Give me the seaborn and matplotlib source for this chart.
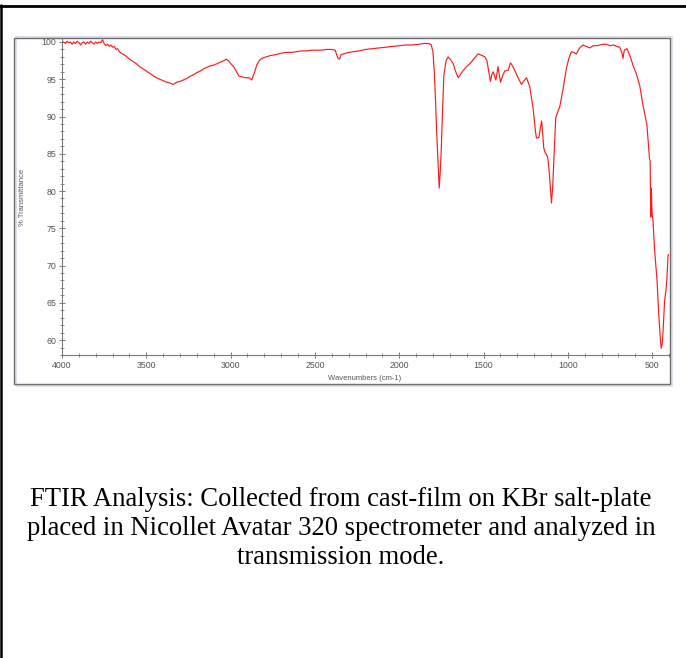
import matplotlib
matplotlib.use('Agg')
import matplotlib.pyplot as plt
import seaborn as sns
import pandas as pd
from matplotlib.patches import Rectangle
from matplotlib.lines import Line2D
from matplotlib.ticker import MultipleLocator

# spectrum (cm-1, %T)
wavenumber = [
    4000, 3990, 3980, 3970, 3960, 3950, 3940, 3930, 3920, 3910, 3900, 3890, 3880, 3870,
    3860, 3850, 3840, 3830, 3820, 3810, 3800, 3790, 3780, 3770, 3760, 3750, 3740, 3730,
    3720, 3710, 3700, 3690, 3680, 3670, 3660, 3650, 3640, 3620, 3600, 3580, 3560, 3540,
    3520, 3500, 3480, 3460, 3440, 3420, 3400, 3380, 3360, 3340, 3320, 3300, 3280, 3260,
    3240, 3220, 3200, 3180, 3160, 3140, 3120, 3100, 3080, 3060, 3040, 3025, 3010, 2995,
    2980, 2965, 2950, 2930, 2910, 2890, 2875, 2860, 2845, 2830, 2815, 2790, 2760, 2730,
    2700, 2670, 2640, 2610, 2580, 2550, 2520, 2490, 2460, 2430, 2400, 2380, 2365, 2355,
    2345, 2330, 2300, 2270, 2240, 2200, 2160, 2120, 2080, 2040, 2000, 1960, 1920, 1880,
    1850, 1825, 1810, 1800, 1792, 1785, 1778, 1770, 1763, 1757, 1750, 1742, 1735, 1722,
    1710, 1695, 1680, 1665, 1650, 1635, 1620, 1600, 1580, 1555, 1532, 1510, 1492, 1480,
    1472, 1459, 1451, 1443, 1435, 1427, 1420, 1414, 1406, 1399, 1388, 1374, 1354, 1340,
    1328, 1315, 1295, 1275, 1260, 1245, 1226, 1206, 1192, 1186, 1171, 1162, 1155, 1149,
    1143, 1135, 1127, 1119, 1111, 1104, 1097, 1090, 1084, 1078, 1072, 1060, 1048, 1029,
    1009, 994, 979, 965, 949, 930, 910, 890, 870, 850, 830, 810, 790, 771,
    750, 730, 710, 692, 680, 673, 665, 650, 632, 614, 595, 574, 555, 531,
    516, 512, 508, 505, 500, 495, 485, 471, 460, 450, 446, 440, 436, 430,
    426, 418, 412, 406, 402,
]
transmittance = [
    99.9, 100.0, 99.8, 100.1, 99.9, 100.0, 99.7, 100.0, 99.8, 100.1, 99.9, 99.6, 99.9, 100.0,
    99.7, 100.0, 99.8, 100.1, 99.9, 99.7, 100.0, 99.8, 100.0, 99.9, 100.3, 99.8, 99.5, 99.7,
    99.4, 99.6, 99.3, 99.4, 99.0, 99.1, 98.7, 98.5, 98.4, 98.1, 97.7, 97.4, 97.1, 96.7,
    96.4, 96.1, 95.8, 95.5, 95.2, 95.0, 94.8, 94.6, 94.5, 94.3, 94.6, 94.7, 94.9, 95.1,
    95.4, 95.6, 95.9, 96.1, 96.4, 96.6, 96.8, 96.9, 97.1, 97.3, 97.5, 97.7, 97.4, 97.0,
    96.6, 96.0, 95.4, 95.3, 95.2, 95.2, 94.9, 95.8, 96.9, 97.5, 97.8, 98.0, 98.2, 98.3,
    98.5, 98.6, 98.6, 98.7, 98.8, 98.8, 98.9, 98.9, 98.9, 99.0, 99.0, 98.9, 97.9, 97.7,
    98.3, 98.4, 98.6, 98.7, 98.8, 99.0, 99.1, 99.2, 99.3, 99.4, 99.5, 99.6, 99.6, 99.7,
    99.8, 99.8, 99.6, 98.7, 96.0, 92.4, 88.0, 84.0, 80.4, 82.5, 86.0, 91.5, 95.6, 97.5,
    98.0, 97.6, 97.1, 96.0, 95.2, 95.7, 96.2, 96.7, 97.1, 97.8, 98.4, 98.2, 98.0, 97.5,
    96.4, 94.7, 95.6, 96.0, 95.5, 94.9, 95.8, 96.7, 95.5, 94.6, 95.4, 96.1, 96.2, 97.2,
    96.8, 96.2, 95.2, 94.3, 94.8, 95.2, 94.0, 91.1, 88.0, 87.1, 87.2, 88.6, 89.4, 87.5,
    85.8, 85.2, 84.9, 84.5, 82.7, 80.5, 78.4, 80.5, 83.6, 87.0, 89.8, 90.6, 91.3, 93.6,
    96.4, 97.8, 98.7, 98.6, 98.4, 99.2, 99.6, 99.4, 99.2, 99.5, 99.5, 99.6, 99.7, 99.7,
    99.5, 99.6, 99.4, 99.3, 98.6, 97.8, 98.9, 99.1, 98.2, 96.9, 95.8, 94.2, 91.6, 88.9,
    84.4, 84.0, 76.5, 80.4, 77.0, 76.0, 72.0, 68.0, 63.1, 59.8, 58.9, 59.5, 60.9, 63.5,
    65.3, 66.7, 68.4, 71.3, 71.5,
]

x_ticks = [4000, 3500, 3000, 2500, 2000, 1500, 1000, 500]
y_ticks = [60, 65, 70, 75, 80, 85, 90, 95, 100]

caption_lines = [
    "FTIR Analysis: Collected from cast-film on KBr salt-plate",
    "placed in Nicollet Avatar 320 spectrometer and analyzed in",
    "transmission mode.",
]

sns.set_style('white')
plt.rcParams['font.family'] = ['Liberation Sans', 'DejaVu Sans']

W, H = 686, 658
fig = plt.figure(figsize=(W / 100, H / 100), dpi=100)

# plot area in pixel terms
left, right, top, bottom = 62, 669, 39, 355
ax = fig.add_axes([left / W, 1 - bottom / H, (right - left) / W, (bottom - top) / H])
ax.patch.set_visible(False)

df = pd.DataFrame({'Wavenumber': wavenumber, 'Transmittance': transmittance})
sns.lineplot(data=df, x='Wavenumber', y='Transmittance', ax=ax,
             color='#ff1a1a', lw=0.85, sort=False, estimator=None)

ax.set_xlim(4000, 400)
ax.set_ylim(58, 100.4)
ax.set_xticks(x_ticks)
ax.set_yticks(y_ticks)
ax.xaxis.set_minor_locator(MultipleLocator(100))
ax.yaxis.set_minor_locator(MultipleLocator(1))
ax.set_xlabel('')
ax.set_ylabel('')

axis_col = '#7a7a7a'
ax.tick_params(which='major', direction='inout', length=4, width=0.7,
               color=axis_col, labelsize=6.3, labelcolor='#555555', pad=2)
ax.tick_params(which='minor', direction='inout', length=3, width=0.6, color=axis_col)
ax.tick_params(axis='both', which='both', left=True, bottom=True)
for side in ['top', 'right']:
    ax.spines[side].set_visible(False)
for side in ['left', 'bottom']:
    ax.spines[side].set_color(axis_col)
    ax.spines[side].set_linewidth(0.8)

fig.text(22 / W, 1 - 197 / H, '% Transmittance', rotation=90, ha='center', va='center',
         fontsize=5.5, color='#555555')
fig.text(365 / W, 1 - 378 / H, 'Wavenumbers (cm-1)', ha='center', va='center',
         fontsize=5.5, color='#555555')

# chart panel border (with a faint outer edge)
fig.patches.append(Rectangle((15.5 / W, 1 - 385.5 / H), (656.5) / W, (349) / H,
                             transform=fig.transFigure, fill=False,
                             edgecolor='#d5dbe5', lw=1.2, zorder=2))
fig.patches.append(Rectangle((14 / W, 1 - 384 / H), (656) / W, (346) / H,
                             transform=fig.transFigure, fill=False,
                             edgecolor='#6e6e6e', lw=1.0, zorder=3))

# outer black frame (top and left only)
fig.lines.append(Line2D([0, 1], [1 - 5.5 / H, 1 - 5.5 / H], transform=fig.transFigure,
                        color='black', lw=2.0))
fig.lines.append(Line2D([1.2 / W, 1.2 / W], [0, 1 - 5 / H], transform=fig.transFigure,
                        color='black', lw=1.8))

baselines = [505.5, 535, 564.5]
for line, yb in zip(caption_lines, baselines):
    fig.text(341 / W, 1 - yb / H, line, ha='center', va='baseline',
             family=['Liberation Serif', 'DejaVu Serif'], fontsize=19.2, color='black')

fig.savefig('out.png', dpi=100)
